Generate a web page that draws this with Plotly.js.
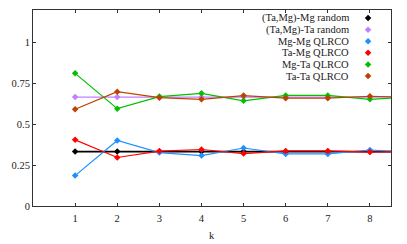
<!DOCTYPE html>
<html>
<head>
<meta charset="utf-8">
<script src="https://cdn.plot.ly/plotly-3.0.1.min.js"></script>
<style>
html,body{margin:0;padding:0;background:#fff;}
#chart{width:407px;height:244px;}
</style>
</head>
<body>
<div id="chart"></div>
<script>
var k = [1, 2, 3, 4, 5, 6, 7, 8, 9];
var seriesNames = ["(Ta,Mg)-Mg random", "(Ta,Mg)-Ta random", "Mg-Mg QLRCO", "Ta-Mg QLRCO", "Mg-Ta QLRCO", "Ta-Ta QLRCO"];
var mgRandom = [0.333, 0.333, 0.333, 0.333, 0.333, 0.333, 0.333, 0.333, 0.333];
var taRandom = [0.667, 0.667, 0.667, 0.667, 0.667, 0.667, 0.667, 0.667, 0.667];
var mgMg = [0.186, 0.401, 0.327, 0.309, 0.355, 0.319, 0.319, 0.343, 0.330];
var taMg = [0.405, 0.297, 0.336, 0.346, 0.321, 0.337, 0.337, 0.330, 0.332];
var mgTa = [0.812, 0.596, 0.670, 0.690, 0.644, 0.677, 0.677, 0.653, 0.667];
var taTa = [0.592, 0.700, 0.663, 0.653, 0.676, 0.660, 0.660, 0.672, 0.666];
var colors = ["#000000", "#c080ff", "#1e90ff", "#ff0000", "#00c000", "#c04000"];
var widths = [1.8, 1.2, 1.2, 1.2, 1.2, 1.2];
var values = [mgRandom, taRandom, mgMg, taMg, mgTa, taTa];
var FONT = "'Liberation Serif', 'Times New Roman', serif";

var traces = [];
values.forEach(function (v, i) {
  traces.push({
    x: k, y: v, type: 'scatter', mode: 'lines+markers',
    name: seriesNames[i], showlegend: false,
    line: {color: colors[i], width: widths[i]},
    marker: {color: colors[i], size: 5, symbol: 'diamond'},
    cliponaxis: true
  });
});

// custom key: text right-aligned, symbol on the right (gnuplot style)
var keyTop = 0.959, keyStep = 0.0592, keyTextX = 0.888, keyMarkX = 0.936;
var keyY = seriesNames.map(function (_, i) { return keyTop - i * keyStep; });
traces.push({
  x: seriesNames.map(function () { return keyMarkX; }), y: keyY,
  xaxis: 'x2', yaxis: 'y2', type: 'scatter', mode: 'markers', showlegend: false,
  marker: {color: colors, size: 5, symbol: 'diamond'}, hoverinfo: 'skip'
});
var annotations = seriesNames.map(function (n, i) {
  return {xref: 'paper', yref: 'paper', x: keyTextX, y: keyY[i], text: n,
          showarrow: false, xanchor: 'right', yanchor: 'middle',
          font: {family: FONT, size: 10.5, color: '#222'}};
});
annotations.push({xref: 'paper', yref: 'paper', x: 0.5, y: -0.148, text: 'k',
  showarrow: false, xanchor: 'center', yanchor: 'middle',
  font: {family: FONT, size: 10.5, color: '#222'}});

var axisCommon = {
  showgrid: false, zeroline: false, showline: true, linecolor: '#333', linewidth: 1,
  mirror: 'ticks', ticks: 'inside', ticklen: 3, tickcolor: '#333', tickwidth: 1,
  tickfont: {family: FONT, size: 10.5, color: '#222'}
};

var layout = {
  width: 407, height: 244,
  margin: {l: 33, r: 16, t: 10, b: 38},
  paper_bgcolor: '#fff', plot_bgcolor: '#fff',
  font: {family: FONT},
  showlegend: false,
  xaxis: Object.assign({}, axisCommon, {
    range: [0, 8.5], tickvals: [1, 2, 3, 4, 5, 6, 7, 8], ticklabelstandoff: 2
  }),
  yaxis: Object.assign({}, axisCommon, {
    range: [0, 1.2], tickvals: [0, 0.25, 0.5, 0.75, 1], ticktext: ['0', '0.25', '0.5', '0.75', '1']
  }),
  xaxis2: {overlaying: 'x', range: [0, 1], visible: false, fixedrange: true},
  yaxis2: {overlaying: 'y', range: [0, 1], visible: false, fixedrange: true},
  annotations: annotations
};

Plotly.newPlot('chart', traces, layout, {staticPlot: true, displayModeBar: false});
</script>
</body>
</html>
